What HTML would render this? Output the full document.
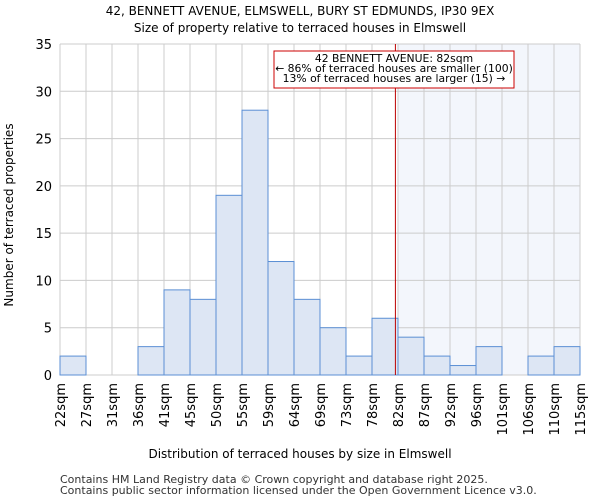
<!DOCTYPE html>
<html><head><meta charset="utf-8"><style>
body{margin:0;background:#fff;font-family:"DejaVu Sans","Liberation Sans",sans-serif}
</style></head><body>
<svg width="600" height="500" font-family="DejaVu Sans, Liberation Sans, sans-serif">
<text x="300" y="15" text-anchor="middle" font-size="12">42, BENNETT AVENUE, ELMSWELL, BURY ST EDMUNDS, IP30 9EX</text>
<text x="300" y="32" text-anchor="middle" font-size="12">Size of property relative to terraced houses in Elmswell</text>
<g id="plot"></g>
<text x="300" y="458" text-anchor="middle" font-size="12">Distribution of terraced houses by size in Elmswell</text>
<text transform="translate(13,215) rotate(-90)" text-anchor="middle" font-size="12">Number of terraced properties</text>
<text x="60" y="483" font-size="11" fill="#333">Contains HM Land Registry data © Crown copyright and database right 2025.</text>
<text x="60" y="494" font-size="11" fill="#333">Contains public sector information licensed under the Open Government Licence v3.0.</text>
</svg>
<script>
const categories=["22sqm","27sqm","31sqm","36sqm","41sqm","45sqm","50sqm","55sqm","59sqm","64sqm","69sqm","73sqm","78sqm","82sqm","87sqm","92sqm","96sqm","101sqm","106sqm","110sqm","115sqm"];
const counts=[2,0,0,3,9,8,19,28,12,8,5,2,6,4,2,1,3,0,2,3];
const yTicks=[0,5,10,15,20,25,30,35];
const markerBin=12.9;
const highlightStartBin=13;
const NS="http://www.w3.org/2000/svg";
const g=document.getElementById('plot');
const L=60,R=580,T=44,B=375,n=counts.length,bw=(R-L)/n;
const x=i=>L+i*bw, y=v=>B-(v/35)*(B-T);
function mk(t,a,p){const e=document.createElementNS(NS,t);for(const k in a)e.setAttribute(k,a[k]);(p||g).appendChild(e);return e;}
let e=mk('rect',{x:x(highlightStartBin),y:T,width:R-x(highlightStartBin),height:B-T,fill:'#f3f6fc'});


yTicks.forEach(v=>{const l=mk('line',{x1:L,x2:R,y1:y(v),y2:y(v),stroke:'#ccc'});


const t=mk('text',{x:L-8,y:y(v)+5,'text-anchor':'end','font-size':'13'});t.textContent=v;

});
categories.forEach((c,i)=>{const l=mk('line',{x1:x(i),x2:x(i),y1:T,y2:B,stroke:'#ccc'});


const t=mk('text',{transform:`translate(${x(i)+5},${B+8}) rotate(-90)`,'text-anchor':'end','font-size':'13'});t.textContent=c;

});
counts.forEach((v,i)=>{if(!v)return;const r=mk('rect',{x:x(i),y:y(v),width:bw,height:B-y(v),fill:'#dde6f4',stroke:'#5b8fd4','stroke-width':1});

});
e=mk('line',{x1:x(markerBin),x2:x(markerBin),y1:T,y2:B,stroke:'#b00','stroke-width':1});


e=mk('rect',{x:274,y:51,width:240,height:37,fill:'#fff',stroke:'#c00','stroke-width':1});


["42 BENNETT AVENUE: 82sqm","← 86% of terraced houses are smaller (100)","13% of terraced houses are larger (15) →"].forEach((s,k)=>{const t=mk('text',{x:394,y:62+k*10,'text-anchor':'middle','font-size':'10.8'});t.textContent=s;

});
</script>
</body></html>
